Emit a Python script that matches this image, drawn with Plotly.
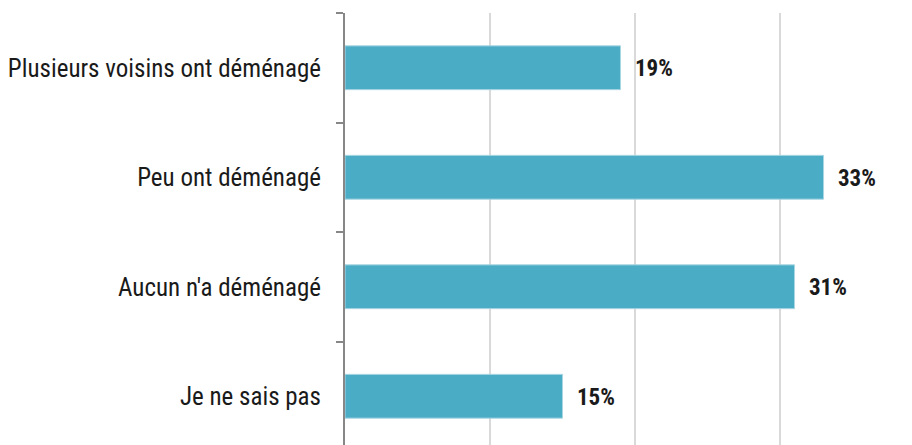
import plotly.graph_objects as go

categories = ["Plusieurs voisins ont déménagé", "Peu ont déménagé", "Aucun n'a déménagé", "Je ne sais pas"]
values = [19, 33, 31, 15]
labels = ["19%", "33%", "31%", "15%"]

FONT = "Liberation Sans Narrow, Arial Narrow, Roboto Condensed, sans-serif"

fig = go.Figure(go.Bar(
    y=categories, x=values, orientation="h",
    marker=dict(color="#4BACC6", line=dict(color="#A9D6E3", width=1)),
    width=0.4, hoverinfo="skip",
))

for c, v, t in zip(categories, values, labels):
    fig.add_annotation(x=v, y=c, text="<b>" + t + "</b>", showarrow=False,
                       xanchor="left", xshift=12, yshift=-1,
                       font=dict(family=FONT, size=23, color="#1a1a1a"))

fig.update_layout(
    width=904, height=443,
    margin=dict(l=337, r=0, t=5, b=0),
    paper_bgcolor="white", plot_bgcolor="white",
    showlegend=False,
    font=dict(family=FONT, size=25, color="#1a1a1a"),
)
fig.update_xaxes(range=[0, 39.1], tickvals=[10, 20, 30], showticklabels=False,
                 showgrid=True, gridcolor="#D9D9D9", gridwidth=2, zeroline=False,
                 showline=False)
fig.update_yaxes(categoryorder="array", categoryarray=categories[::-1],
                 range=[-0.5, 3.5], showline=True, linecolor="#878787", linewidth=2,
                 ticks="outside", tickson="boundaries", ticklen=7, tickcolor="#878787",
                 tickwidth=2, showgrid=False, ticklabelstandoff=17,
                 tickfont=dict(family=FONT, size=25, color="#1a1a1a"))

fig.write_html("out.html")
